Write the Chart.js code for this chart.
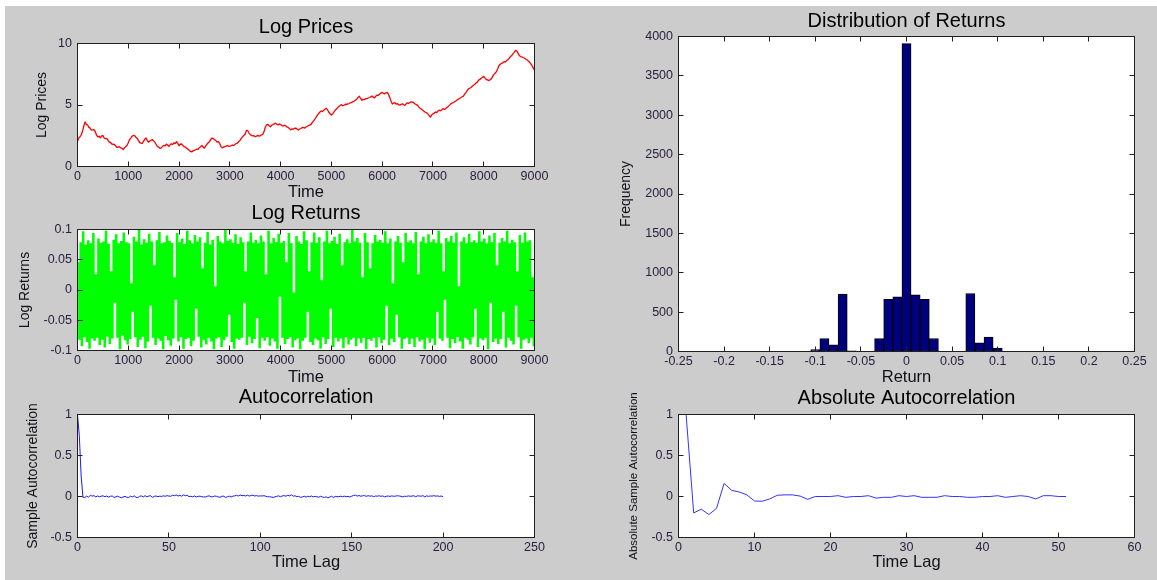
<!DOCTYPE html>
<html>
<head>
<meta charset="utf-8">
<title>Simulated returns: prices, returns, distribution and autocorrelation</title>
<script src="https://cdn.jsdelivr.net/npm/chart.js@4.4.0/dist/chart.umd.min.js"></script>
<style>
  html, body { margin: 0; padding: 0; background: #ffffff; }
  #fig { position: relative; width: 1157px; height: 580px; overflow: hidden; background: #ffffff; }
  #bg { position: absolute; left: 5px; top: 6px; right: 0; bottom: 0; background: #cccccc; }
  #fig canvas { position: absolute; left: 0; top: 0; }
</style>
</head>
<body>
<div id="fig">
  <div id="bg"></div>
  <canvas id="cPrices" width="1157" height="580"></canvas>
  <canvas id="cReturns" width="1157" height="580"></canvas>
  <canvas id="cAcf" width="1157" height="580"></canvas>
  <canvas id="cHist" width="1157" height="580"></canvas>
  <canvas id="cAbsAcf" width="1157" height="580"></canvas>
</div>
<script>
// ---- data ---------------------------------------------------------------

// log price, sampled every priceStep time steps (t = 0 .. 9000)
const priceStep = 25;
const logPrices = [
  2.05, 2.31, 2.42, 2.58, 2.88, 3.31, 3.62, 3.41, 3.38, 3.18, 3.12, 2.96, 2.97, 2.99, 2.83, 2.56, 2.41, 2.46, 2.33, 2.49,
  2.52, 2.31, 2.27, 2.28, 2.14, 1.98, 1.97, 1.83, 1.81, 1.79, 1.69, 1.55, 1.58, 1.61, 1.52, 1.49, 1.38, 1.51, 1.62, 1.71,
  1.93, 2.18, 2.31, 2.47, 2.52, 2.51, 2.38, 2.29, 2.12, 1.94, 1.91, 1.88, 2.04, 2.21, 2.32, 2.09, 1.98, 2.07, 2.13, 2.19,
  2.08, 1.96, 1.79, 1.61, 1.58, 1.47, 1.52, 1.64, 1.71, 1.68, 1.82, 1.74, 1.63, 1.78, 1.84, 1.79, 1.93, 1.86, 2.02, 1.88,
  1.69, 1.81, 1.83, 1.72, 1.61, 1.57, 1.48, 1.41, 1.32, 1.22, 1.19, 1.27, 1.31, 1.36, 1.42, 1.39, 1.53, 1.61, 1.72, 1.58,
  1.49, 1.67, 1.81, 1.93, 2.02, 2.21, 2.31, 2.27, 2.18, 2.11, 1.98, 2.03, 1.87, 1.62, 1.51, 1.58, 1.62, 1.66, 1.71, 1.64,
  1.63, 1.69, 1.74, 1.71, 1.79, 1.88, 1.91, 2.03, 2.12, 2.28, 2.41, 2.52, 2.62, 2.91, 2.93, 2.74, 2.61, 2.53, 2.48, 2.51,
  2.42, 2.47, 2.53, 2.46, 2.51, 2.58, 2.62, 2.84, 3.21, 3.38, 3.42, 3.31, 3.23, 3.36, 3.41, 3.47, 3.52, 3.44, 3.38, 3.46,
  3.41, 3.33, 3.29, 3.36, 3.31, 3.22, 3.18, 3.07, 2.98, 3.06, 3.03, 3.11, 3.12, 3.04, 2.97, 3.05, 3.09, 3.16, 3.18, 3.12,
  3.21, 3.27, 3.33, 3.36, 3.42, 3.58, 3.71, 3.86, 4.02, 4.18, 4.31, 4.43, 4.52, 4.47, 4.58, 4.66, 4.73, 4.62, 4.41, 4.29,
  4.18, 4.27, 4.43, 4.58, 4.68, 4.79, 4.88, 4.96, 5.03, 4.94, 4.97, 5.06, 5.04, 5.09, 5.12, 5.18, 5.21, 5.27, 5.32, 5.39,
  5.48, 5.62, 5.71, 5.53, 5.39, 5.46, 5.43, 5.51, 5.52, 5.57, 5.61, 5.66, 5.73, 5.64, 5.58, 5.72, 5.81, 5.79, 5.88, 5.97,
  6.02, 5.94, 5.91, 5.98, 6.03, 5.86, 5.62, 5.31, 5.08, 5.16, 5.19, 5.07, 5.11, 5.03, 4.98, 5.06, 5.09, 5.02, 4.97, 5.11,
  5.18, 5.14, 5.21, 5.26, 5.23, 5.17, 5.08, 5.03, 4.97, 4.83, 4.72, 4.66, 4.58, 4.49, 4.41, 4.36, 4.29, 4.13, 4.02, 4.18,
  4.28, 4.34, 4.42, 4.39, 4.51, 4.58, 4.53, 4.62, 4.71, 4.64, 4.69, 4.79, 4.88, 4.97, 5.09, 5.16, 5.19, 5.26, 5.32, 5.41,
  5.48, 5.53, 5.61, 5.67, 5.72, 5.88, 6.01, 6.18, 6.31, 6.36, 6.42, 6.53, 6.61, 6.68, 6.79, 6.86, 7.02, 7.08, 7.18, 7.26,
  7.33, 7.19, 7.08, 7.04, 6.98, 7.06, 7.12, 7.31, 7.49, 7.58, 7.71, 7.93, 8.19, 8.31, 8.38, 8.43, 8.52, 8.49, 8.61, 8.68,
  8.79, 8.93, 9.02, 9.16, 9.28, 9.44, 9.41, 9.22, 9.03, 8.94, 8.91, 8.86, 8.82, 8.74, 8.68, 8.59, 8.49, 8.36, 8.21, 8.02,
  7.82
];

// log returns, sampled every returnStep time steps
const returnStep = 25;
const logReturns = [
  .045,-.081,.078,-.092,.096,-.077,.074,-.085,.081,-.096,.076,-.079,.093,-.083,.025,-.078,.084,-.09,.077,-.081,
  .079,-.094,.097,-.076,.075,-.088,.03,-.079,.082,-.02,.091,-.078,.076,-.097,.08,-.074,.094,-.082,.078,-.089,
  .076,-.08,.01,-.035,.087,-.077,.079,-.093,.098,-.081,.074,-.076,.083,-.095,.077,-.084,.092,-.025,.079,-.078,
  .04,-.09,.081,-.079,.095,-.083,.076,-.097,.078,-.075,.089,-.082,.08,-.091,.077,-.079,.02,-.015,.093,-.084,
  .078,-.077,.084,-.096,.075,-.08,.097,-.078,.081,-.092,.076,-.083,.09,-.03,.079,-.076,.086,-.094,.035,-.081,
  .077,-.089,.095,-.078,.074,-.084,.082,-.097,.005,-.079,.088,-.077,.079,-.093,.076,-.082,.098,-.076,.08,-.04,
  .083,-.085,.077,-.096,.091,-.079,.075,-.081,.086,-.078,.078,-.02,.03,-.09,.079,-.076,.094,-.087,.077,-.08,
  .082,-.045,.076,-.095,.089,-.078,.079,-.083,.025,-.077,.097,-.091,.076,-.079,.085,-.084,.078,-.096,.092,-.01,
  .077,-.078,.08,-.088,.045,-.08,.093,-.077,.076,-.094,-.005,-.082,.088,-.079,.079,-.097,.075,-.083,.096,-.078,
  .081,-.035,.03,-.085,.078,-.09,.094,-.079,.077,-.082,.086,-.096,.015,-.077,.079,-.088,.097,-.08,.076,-.03,
  .08,-.093,.087,-.078,.075,-.084,.092,-.079,.04,-.095,.078,-.077,.083,-.089,.076,-.081,.098,-.078,.079,-.092,
  .085,-.079,.077,-.086,.02,-.078,.093,-.097,.078,-.08,.035,-.083,.076,-.078,.09,-.094,.079,-.077,.082,-.087,
  .077,-.081,.096,-.025,.076,-.09,.084,-.079,.01,-.085,.079,-.04,.088,-.077,.077,-.096,.045,-.08,.093,-.078,
  .078,-.088,.081,-.079,.076,-.093,.095,-.077,.025,-.084,.079,-.081,.087,-.097,.076,-.078,.091,-.086,.078,-.079,
  .083,-.09,.077,-.035,.097,-.079,.076,-.083,.03,-.015,.085,-.078,.079,-.095,.088,-.08,.077,-.087,.094,-.077,
  .005,-.084,.079,-.096,.086,-.078,.076,-.081,.092,-.089,.078,-.077,.081,-.03,.077,-.093,.096,-.079,.079,-.082,
  .084,-.078,.076,-.097,.089,-.02,.078,-.085,.093,-.079,.04,-.088,.077,-.08,.085,-.035,.079,-.094,.097,-.078,
  .076,-.083,.082,-.089,.078,-.025,.03,-.077,.09,-.096,.077,-.081,.094,-.079,.079,-.087,.081,-.078,.02,-.092,
  .03
];

// histogram of returns: bin centres and counts
const returnBins = [-0.1, -0.09, -0.08, -0.07, -0.06, -0.05, -0.04, -0.03, -0.02, -0.01, 0,
                    0.01, 0.02, 0.03, 0.04, 0.05, 0.06, 0.07, 0.08, 0.09, 0.1];
const returnCounts = [25, 165, 85, 728, 8, 0, 0, 165, 661, 695, 3910,
                      720, 661, 165, 0, 0, 0, 737, 110, 182, 42];

// sample autocorrelation of returns, lags 0 .. 200
const acfValues = [
  1, .74, .25,
  -.01,-.012,.005,-.008,.012,.005,.01,-.004,.006,-.003,.004,.008,-.002,.005,-.007,.003,.006,-.012,-.004,.004,
  -.008,-.015,-.006,.002,-.01,-.012,.004,-.006,.008,-.01,-.013,.003,.007,-.005,.01,-.004,.006,.009,-.011,.002,
  .006,-.002,.004,.001,.008,.003,.01,.005,.003,.015,.009,.018,.006,.014,.004,.02,.01,.016,-.002,.003,
  -.004,.006,-.006,.002,.004,-.003,-.005,-.006,.003,.008,-.004,-.003,.006,.002,-.006,-.009,.004,.003,-.011,-.004,
  .005,-.006,.004,.008,.014,.006,.018,.01,.012,.007,.015,.005,.013,.016,.006,.011,.004,.008,.006,.01,
  .003,-.004,-.002,-.007,-.012,-.004,.002,.008,-.003,.007,.01,.004,.014,.008,.02,.004,.009,-.003,.002,-.01,
  -.006,.004,-.008,.003,-.002,.006,-.005,.002,-.004,-.009,.003,-.006,-.012,-.004,-.017,-.006,.003,-.012,.001,-.003,
  -.001,.003,-.002,.004,-.001,.002,-.006,.004,.012,.016,.005,.012,.003,.009,.011,.002,.01,.004,.008,-.002,
  .006,.004,.009,.002,.007,-.004,.003,.006,.001,.008,.002,.005,.009,.006,.003,-.005,.004,.001,.007,.003,
  .005,.009,-.003,.008,.006,.004,.01,-.004,.008,.002,.006,.005,.01,.004,.007,.001,.006,-.003
];

// autocorrelation of absolute returns, lags 1 .. 51
const absAcfValues = [
  1, -.2, -.155, -.22, -.145, .16, .075, .055, .02, -.055,
  -.058, -.03, .015, .02, .02, .005, -.035, 0, 0, 0,
  .01, -.01, 0, 0, .01, -.02, -.01, -.01, .01, 0,
  .01, -.01, -.01, -.01, .01, 0, 0, -.01, -.01, 0,
  0, .01, -.01, 0, .01, 0, -.03, .01, .01, 0, 0
];

// tick positions
const timeTicks = [0, 1000, 2000, 3000, 4000, 5000, 6000, 7000, 8000, 9000];
const priceTicks = [0, 5, 10];
const returnTicks = [-0.1, -0.05, 0, 0.05, 0.1];
const lagTicks = [0, 50, 100, 150, 200, 250];
const acfTicks = [-0.5, 0, 0.5, 1];
const binTicks = [-0.25, -0.2, -0.15, -0.1, -0.05, 0, 0.05, 0.1, 0.15, 0.2, 0.25];
const freqTicks = [0, 500, 1000, 1500, 2000, 2500, 3000, 3500, 4000];
const absLagTicks = [0, 10, 20, 30, 40, 50, 60];

// ---- drawing ------------------------------------------------------------

const W = 1157, H = 580;
const FONT = '"Liberation Sans", Arial, Helvetica, sans-serif';
const TITLE_SIZE = 20, XLABEL_SIZE = 16.5, TICK_SIZE = 12.5, XAXIS_H = 40;
const TICK_COLOR = '#2a2040', LABEL_COLOR = '#141018';

// white plot box, outline and inward tick marks on all four sides
const framePlugin = {
  id: 'frame',
  beforeDraw(chart) {
    const a = chart.chartArea, ctx = chart.ctx;
    ctx.save();
    ctx.fillStyle = '#ffffff';
    ctx.fillRect(a.left, a.top, a.right - a.left, a.bottom - a.top);
    ctx.restore();
  },
  afterDatasetsDraw(chart) {
    const a = chart.chartArea, ctx = chart.ctx;
    const xs = chart.scales.x, ys = chart.scales.y;
    const L = Math.floor(a.left) + 0.5, R = Math.floor(a.right) + 0.5;
    const T = Math.floor(a.top) + 0.5, B = Math.floor(a.bottom) + 0.5;
    ctx.save();
    ctx.strokeStyle = '#202020';
    ctx.lineWidth = 1;
    ctx.beginPath();
    xs.ticks.forEach(t => {
      const p = Math.floor(xs.getPixelForValue(t.value)) + 0.5;
      ctx.moveTo(p, B); ctx.lineTo(p, B - 5);
      ctx.moveTo(p, T); ctx.lineTo(p, T + 5);
    });
    ys.ticks.forEach(t => {
      const p = Math.floor(ys.getPixelForValue(t.value)) + 0.5;
      ctx.moveTo(L, p); ctx.lineTo(L + 5, p);
      ctx.moveTo(R, p); ctx.lineTo(R - 5, p);
    });
    ctx.stroke();
    ctx.strokeRect(L, T, R - L, B - T);
    ctx.restore();
  }
};

const fmt = v => String(Math.round(v * 1000) / 1000);

function makePanel(id, spec) {
  const a = spec.area;
  const titleTop = spec.titleY - TITLE_SIZE / 2;
  const ylSize = spec.yLabelSize || 14;
  const padLeft = spec.yLabelX - ylSize / 2;
  const axisTicks = (arr) => (s) => { s.ticks = arr.map(v => ({ value: v })); };
  return new Chart(document.getElementById(id), {
    type: spec.type,
    data: { datasets: spec.datasets },
    options: {
      responsive: false,
      animation: false,
      devicePixelRatio: 1,
      events: [],
      layout: { padding: { left: padLeft, right: W - a.r, top: titleTop, bottom: H - a.b - XAXIS_H } },
      plugins: {
        legend: { display: false },
        tooltip: { enabled: false },
        title: {
          display: true, text: spec.title, fullSize: false, color: '#000000',
          font: { family: FONT, size: TITLE_SIZE, weight: 'normal', lineHeight: 1 },
          padding: { top: 0, bottom: a.t - titleTop - TITLE_SIZE }
        }
      },
      scales: {
        x: {
          type: 'linear', min: spec.xRange[0], max: spec.xRange[1], offset: false,
          afterBuildTicks: axisTicks(spec.xTicks),
          afterFit: s => { s.height = XAXIS_H; },
          grid: { display: false, drawTicks: false },
          border: { display: false },
          ticks: { color: TICK_COLOR, padding: 3, maxRotation: 0, autoSkip: false,
                   font: { family: FONT, size: TICK_SIZE }, callback: fmt },
          title: {
            display: true, text: spec.xLabel, color: LABEL_COLOR,
            font: { family: FONT, size: XLABEL_SIZE, lineHeight: 1 },
            padding: { top: 0, bottom: a.b + XAXIS_H - XLABEL_SIZE / 2 - spec.xLabelY }
          }
        },
        y: {
          type: 'linear', min: spec.yRange[0], max: spec.yRange[1],
          afterBuildTicks: axisTicks(spec.yTicks),
          afterFit: s => { s.width = a.l - padLeft; },
          grid: { display: false, drawTicks: false },
          border: { display: false },
          ticks: { color: TICK_COLOR, padding: 5.5, autoSkip: false,
                   font: { family: FONT, size: TICK_SIZE }, callback: fmt },
          title: {
            display: true, text: spec.yLabel, color: LABEL_COLOR,
            font: { family: FONT, size: ylSize, lineHeight: 1 },
            padding: { top: 0, bottom: 0 }
          }
        }
      }
    },
    plugins: [framePlugin]
  });
}

const lineSet = (points, color, width, extra) => Object.assign({
  data: points, borderColor: color, borderWidth: width, pointRadius: 0,
  tension: 0, fill: false, parsing: false, borderJoinStyle: 'round'
}, extra || {});

// Log prices
makePanel('cPrices', {
  type: 'line', title: 'Log Prices', titleY: 27.5,
  area: { l: 77.5, r: 534.5, t: 43.5, b: 166.5 },
  xRange: [0, 9000], yRange: [0, 10], xTicks: timeTicks, yTicks: priceTicks,
  xLabel: 'Time', xLabelY: 192.5, yLabel: 'Log Prices', yLabelX: 42,
  datasets: [lineSet(logPrices.map((v, i) => ({ x: i * priceStep, y: v })), '#ff0000', 1.3)]
});

// Log returns (stepped so each sample is a vertical stroke)
makePanel('cReturns', {
  type: 'line', title: 'Log Returns', titleY: 213.5,
  area: { l: 77.5, r: 534.5, t: 229.5, b: 350.5 },
  xRange: [0, 9000], yRange: [-0.1, 0.1], xTicks: timeTicks, yTicks: returnTicks,
  xLabel: 'Time', xLabelY: 377, yLabel: 'Log Returns', yLabelX: 25.5,
  datasets: [lineSet(logReturns.map((v, i) => ({ x: i * returnStep, y: v })), '#00ff00', 1.3,
                     { stepped: true, borderJoinStyle: 'miter' })]
});

// Autocorrelation of returns
makePanel('cAcf', {
  type: 'line', title: 'Autocorrelation', titleY: 397.5,
  area: { l: 77.5, r: 534.5, t: 414.5, b: 537.5 },
  xRange: [0, 250], yRange: [-0.5, 1], xTicks: lagTicks, yTicks: acfTicks,
  xLabel: 'Time Lag', xLabelY: 562, yLabel: 'Sample Autocorrelation', yLabelX: 33.5,
  datasets: [lineSet(acfValues.map((v, i) => ({ x: i, y: v })), '#1a1aff', 1)]
});

// Distribution of returns
makePanel('cHist', {
  type: 'bar', title: 'Distribution of Returns', titleY: 21,
  area: { l: 678.5, r: 1134.5, t: 36.5, b: 351.5 },
  xRange: [-0.25, 0.25], yRange: [0, 4000], xTicks: binTicks, yTicks: freqTicks,
  xLabel: 'Return', xLabelY: 377.5, yLabel: 'Frequency', yLabelX: 626,
  datasets: [{
    data: returnBins.map((b, i) => ({ x: b, y: returnCounts[i] })),
    backgroundColor: '#00007f', borderColor: '#000000', borderWidth: 1,
    borderSkipped: false, barPercentage: 1, categoryPercentage: 1
  }]
});

// Autocorrelation of absolute returns
makePanel('cAbsAcf', {
  type: 'line', title: 'Absolute Autocorrelation', titleY: 398,
  area: { l: 678.5, r: 1134.5, t: 414.5, b: 537.5 },
  xRange: [0, 60], yRange: [-0.5, 1], xTicks: absLagTicks, yTicks: acfTicks,
  xLabel: 'Time Lag', xLabelY: 562, yLabel: 'Absolute Sample Autocorrelation', yLabelX: 633.5,
  yLabelSize: 11.5,
  datasets: [lineSet(absAcfValues.map((v, i) => ({ x: i + 1, y: v })), '#3333ff', 1)]
});
</script>
</body>
</html>
